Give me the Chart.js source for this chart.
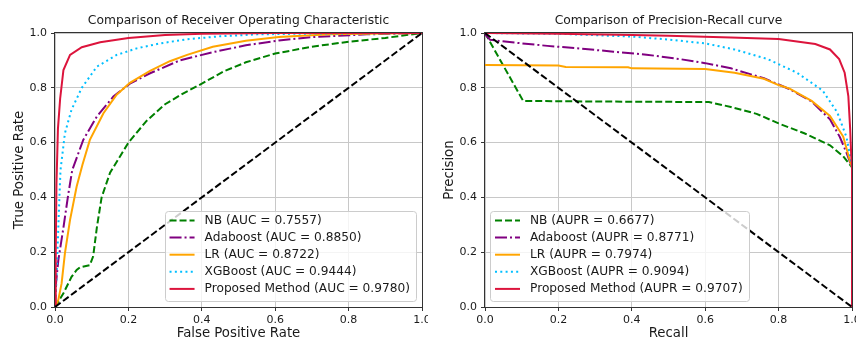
<!DOCTYPE html>
<html>
<head>
<meta charset="utf-8">
<script src="https://cdn.jsdelivr.net/npm/chart.js@4.4.1/dist/chart.umd.min.js"></script>
<style>
  html, body { margin: 0; padding: 0; background: #fff; }
  body { width: 856px; height: 340px; position: relative; overflow: hidden; }
  .panel { position: absolute; top: 0; height: 340px; overflow: hidden; }
  .panel canvas { position: absolute; left: 0; top: 0; }
</style>
</head>
<body>
<div class="panel" style="left:0;width:428px"><canvas id="rocChart" width="460" height="340"></canvas></div>
<div class="panel" style="left:430px;width:426px"><canvas id="prChart" width="460" height="340"></canvas></div>
<script>
// model names and scores shown in the legends
const models = ['NB', 'Adaboost', 'LR', 'XGBoost', 'Proposed Method'];
const aucValues = ['0.7557', '0.8850', '0.8722', '0.9444', '0.9780'];
const auprValues = ['0.6677', '0.8771', '0.7974', '0.9094', '0.9707'];

// ROC curves (false positive rate / true positive rate)
const nbFpr = [0, 0.023, 0.045, 0.059, 0.068, 0.095, 0.104, 0.114, 0.127, 0.15, 0.2, 0.25, 0.3, 0.35, 0.4, 0.46, 0.52, 0.6, 0.7, 0.8, 0.9, 1];
const nbTpr = [0, 0.05, 0.11, 0.135, 0.145, 0.153, 0.185, 0.29, 0.4, 0.49, 0.6, 0.68, 0.74, 0.78, 0.815, 0.86, 0.893, 0.925, 0.95, 0.968, 0.982, 1];
const adaFpr = [0, 0.003, 0.009, 0.023, 0.036, 0.047, 0.077, 0.114, 0.159, 0.204, 0.259, 0.34, 0.43, 0.52, 0.61, 0.7, 0.85, 1];
const adaTpr = [0, 0.09, 0.17, 0.29, 0.41, 0.5, 0.61, 0.695, 0.768, 0.815, 0.853, 0.9, 0.93, 0.955, 0.973, 0.985, 0.995, 1];
const lrFpr = [0, 0.009, 0.018, 0.027, 0.041, 0.059, 0.075, 0.095, 0.132, 0.168, 0.204, 0.259, 0.313, 0.36, 0.43, 0.52, 0.61, 0.75, 1];
const lrTpr = [0, 0.026, 0.086, 0.196, 0.318, 0.44, 0.52, 0.61, 0.707, 0.775, 0.818, 0.862, 0.897, 0.92, 0.95, 0.972, 0.985, 0.995, 1];
const xgbFpr = [0, 0.004, 0.008, 0.012, 0.015, 0.027, 0.045, 0.073, 0.114, 0.168, 0.223, 0.286, 0.36, 0.45, 0.55, 0.7, 1];
const xgbTpr = [0, 0.1, 0.25, 0.4, 0.5, 0.634, 0.72, 0.8, 0.877, 0.92, 0.944, 0.962, 0.977, 0.988, 0.995, 0.998, 1];
const propFpr = [0, 0.002, 0.004, 0.008, 0.014, 0.023, 0.041, 0.073, 0.123, 0.2, 0.3, 0.4, 0.6, 1];
const propTpr = [0, 0.2, 0.45, 0.65, 0.76, 0.865, 0.92, 0.948, 0.966, 0.982, 0.993, 0.997, 1, 1];
const rocChanceX = [0, 1];
const rocChanceY = [0, 1];

// precision-recall curves
const nbRec = [0, 0.104, 0.3, 0.61, 0.67, 0.74, 0.8, 0.87, 0.94, 0.976, 1];
const nbPrec = [1, 0.752, 0.75, 0.748, 0.73, 0.705, 0.67, 0.634, 0.59, 0.55, 0.51];
const adaRec = [0, 0.014, 0.08, 0.17, 0.26, 0.35, 0.44, 0.53, 0.6, 0.67, 0.76, 0.83, 0.89, 0.94, 0.967, 0.986, 1];
const adaPrec = [0.995, 0.975, 0.965, 0.953, 0.943, 0.932, 0.921, 0.905, 0.89, 0.871, 0.835, 0.795, 0.75, 0.685, 0.62, 0.56, 0.51];
const lrRec = [0, 0.2, 0.22, 0.39, 0.4, 0.6, 0.68, 0.76, 0.8, 0.83, 0.89, 0.94, 0.976, 0.993, 1];
const lrPrec = [0.883, 0.881, 0.876, 0.875, 0.871, 0.869, 0.855, 0.833, 0.81, 0.797, 0.752, 0.697, 0.622, 0.54, 0.51];
const xgbRec = [0, 0.2, 0.4, 0.5, 0.6, 0.68, 0.77, 0.85, 0.92, 0.96, 0.985, 0.995, 1];
const xgbPrec = [1, 0.997, 0.987, 0.976, 0.962, 0.94, 0.905, 0.855, 0.79, 0.71, 0.62, 0.55, 0.51];
const propRec = [0, 0.2, 0.4, 0.5, 0.67, 0.8, 0.9, 0.94, 0.965, 0.98, 0.99, 0.995, 0.998, 1, 1];
const propPrec = [1, 0.997, 0.993, 0.99, 0.984, 0.978, 0.96, 0.94, 0.905, 0.855, 0.77, 0.65, 0.55, 0.51, 0];
const prChanceX = [0, 1];
const prChanceY = [1, 0];

const FONT = '"DejaVu Sans", sans-serif';
const TEXT = '#1a1a1a';

const styles = [
    { color: '#008000', dash: [7, 3] },
    { color: '#800080', dash: [12, 3, 2, 3] },
    { color: '#FFA500', dash: [] },
    { color: '#00BFFF', dash: [2, 3.3] },
    { color: '#DC143C', dash: [] }
];

function pts(xs, ys) {
    return xs.map((x, i) => ({ x: x, y: ys[i] }));
}

function buildDatasets(curves, scores, scoreName, chanceX, chanceY) {
    const sets = curves.map((c, i) => ({
        label: models[i] + ' (' + scoreName + ' = ' + scores[i] + ')',
        data: pts(c[0], c[1]),
        borderColor: styles[i].color,
        borderDash: styles[i].dash,
        borderWidth: 2,
        order: 5 - i
    }));
    sets.push({
        label: '',
        data: pts(chanceX, chanceY),
        borderColor: '#000',
        borderDash: [7, 3],
        borderWidth: 2,
        order: 0
    });
    return sets;
}

// matplotlib style frame around the plot area
const frame = {
    id: 'frame',
    afterDatasetsDraw(chart) {
        const a = chart.chartArea, ctx = chart.ctx;
        ctx.save();
        ctx.strokeStyle = '#333';
        ctx.lineWidth = 1;
        ctx.strokeRect(Math.round(a.left) - 0.5, Math.round(a.top) - 0.5,
            Math.round(a.right - a.left) + 1, Math.round(a.bottom - a.top) + 1);
        ctx.restore();
    }
};

// legend drawn inside the plot, like matplotlib's
const insideLegend = {
    id: 'insideLegend',
    afterDatasetsDraw(chart, args, opts) {
        const ctx = chart.ctx, a = chart.chartArea;
        const items = chart.data.datasets.filter(d => d.label);
        ctx.save();
        ctx.font = '12.2px ' + FONT;
        const textW = Math.max(...items.map(d => ctx.measureText(d.label).width));
        const w = 40 + textW + 6, h = 90;
        const x = opts.align === 'right' ? a.right - 6 - w : a.left + 5;
        const y = a.bottom - 6 - h;
        ctx.beginPath();
        ctx.roundRect(Math.round(x) + 0.5, Math.round(y) + 0.5, Math.round(w), h, 3);
        ctx.fillStyle = 'rgba(255,255,255,0.8)';
        ctx.fill();
        ctx.strokeStyle = '#cccccc';
        ctx.lineWidth = 1;
        ctx.stroke();
        items.forEach((d, i) => {
            const cy = y + 9.5 + i * 17.1;
            ctx.strokeStyle = d.borderColor;
            ctx.lineWidth = d.borderWidth;
            ctx.setLineDash(d.borderDash || []);
            ctx.beginPath();
            ctx.moveTo(x + 5, cy);
            ctx.lineTo(x + 30, cy);
            ctx.stroke();
            ctx.setLineDash([]);
            ctx.fillStyle = TEXT;
            ctx.textBaseline = 'middle';
            ctx.fillText(d.label, x + 40, cy);
        });
        ctx.restore();
    }
};

function axis(titleText, isX) {
    return {
        type: 'linear',
        min: 0,
        max: 1,
        ticks: {
            stepSize: 0.2,
            callback: v => v.toFixed(1),
            font: { family: FONT, size: 11 },
            color: TEXT,
            padding: isX ? 3 : 4,
            maxRotation: 0
        },
        grid: { color: '#c8c8c8', lineWidth: 1, tickLength: 4, tickColor: '#333' },
        border: { display: false },
        title: {
            display: true,
            text: titleText,
            font: { family: FONT, size: 13.3, lineHeight: 1 },
            color: TEXT,
            padding: isX ? { top: 0, bottom: 0 } : { top: 13, bottom: 0 }
        },
        afterFit(s) {
            if (isX) s.height = 33; else s.width = 55;
        }
    };
}

function makeChart(id, titleText, xTitle, yTitle, datasets, legendAlign) {
    return new Chart(document.getElementById(id).getContext('2d'), {
        type: 'scatter',
        data: { datasets: datasets },
        options: {
            responsive: false,
            animation: false,
            layout: { padding: { left: 0, right: 38, top: 0, bottom: 0 } },
            elements: {
                point: { radius: 0, hoverRadius: 0 },
                line: { tension: 0, fill: false }
            },
            datasets: { scatter: { showLine: true } },
            plugins: {
                legend: { display: false },
                tooltip: { enabled: false },
                title: {
                    display: true,
                    text: titleText,
                    fullSize: false,
                    font: { family: FONT, size: 12.3, weight: 'normal', lineHeight: 1.2 },
                    color: TEXT,
                    padding: { top: 13, bottom: 5.24 }
                },
                insideLegend: { align: legendAlign }
            },
            scales: {
                x: axis(xTitle, true),
                y: axis(yTitle, false)
            }
        },
        plugins: [frame, insideLegend]
    });
}

makeChart('rocChart', 'Comparison of Receiver Operating Characteristic',
    'False Positive Rate', 'True Positive Rate',
    buildDatasets([[nbFpr, nbTpr], [adaFpr, adaTpr], [lrFpr, lrTpr], [xgbFpr, xgbTpr], [propFpr, propTpr]],
        aucValues, 'AUC', rocChanceX, rocChanceY), 'right');

makeChart('prChart', 'Comparison of Precision-Recall curve',
    'Recall', 'Precision',
    buildDatasets([[nbRec, nbPrec], [adaRec, adaPrec], [lrRec, lrPrec], [xgbRec, xgbPrec], [propRec, propPrec]],
        auprValues, 'AUPR', prChanceX, prChanceY), 'left');
</script>
</body>
</html>
